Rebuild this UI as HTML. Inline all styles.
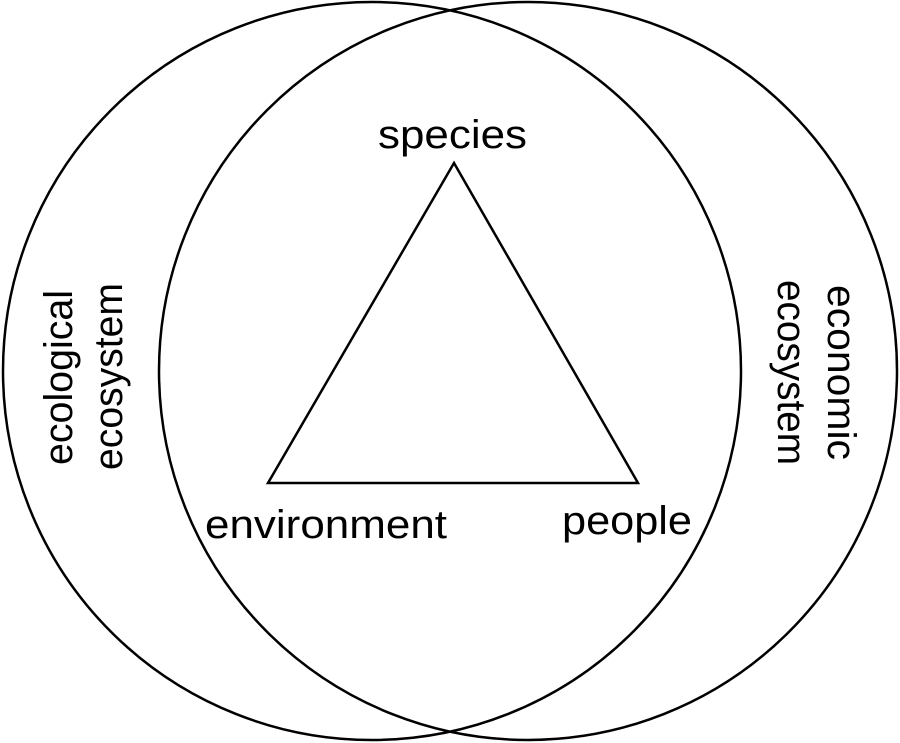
<!DOCTYPE html>
<html><head><meta charset="utf-8"><style>
html,body{margin:0;padding:0;background:#fff;}
svg{display:block;}
text{font-family:"Liberation Sans",Arial,sans-serif;font-size:40px;fill:#000;}
</style></head><body>
<svg width="900" height="743" viewBox="0 0 900 743" xmlns="http://www.w3.org/2000/svg">
<circle cx="372" cy="371" r="369" fill="none" stroke="#000" stroke-width="2.5"/>
<circle cx="528" cy="371" r="369" fill="none" stroke="#000" stroke-width="2.5"/>
<polygon points="454,163 268,483 638,483" fill="none" stroke="#000" stroke-width="2.5"/>
<text x="378" y="148" textLength="149" lengthAdjust="spacingAndGlyphs">species</text>
<text x="205" y="538" textLength="242" lengthAdjust="spacingAndGlyphs">environment</text>
<text x="562" y="534" textLength="130" lengthAdjust="spacingAndGlyphs">people</text>
<text transform="translate(72,465) rotate(-90)" textLength="175" lengthAdjust="spacingAndGlyphs">ecological</text>
<text transform="translate(122,470) rotate(-90)" textLength="187" lengthAdjust="spacingAndGlyphs">ecosystem</text>
<text transform="translate(828,285) rotate(90)" textLength="175" lengthAdjust="spacingAndGlyphs">economic</text>
<text transform="translate(778,280) rotate(90)" textLength="185" lengthAdjust="spacingAndGlyphs">ecosystem</text>
</svg>
</body></html>
